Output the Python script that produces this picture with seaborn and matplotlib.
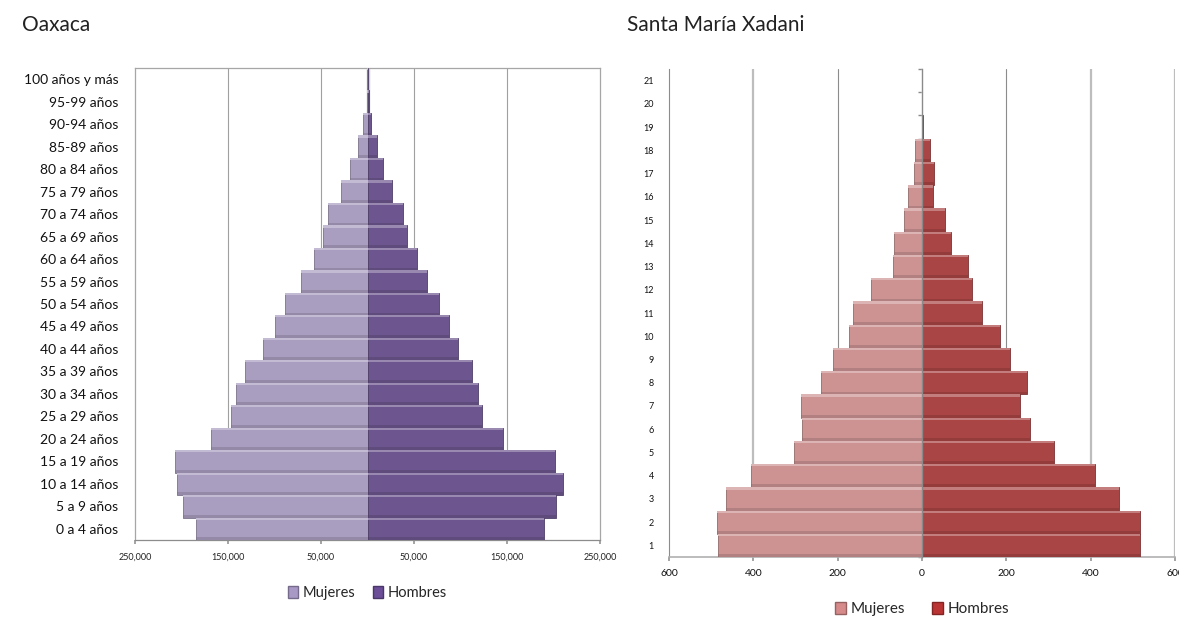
import matplotlib
matplotlib.use("Agg")
import matplotlib.pyplot as plt
import seaborn as sns
import pandas as pd
from matplotlib.patches import Patch, Rectangle
from matplotlib.ticker import FixedLocator
import matplotlib.colors as mcolors

# ---------------- data (youngest -> oldest) ----------------
oax_groups = ["0 a 4 años", "5 a 9 años", "10 a 14 años", "15 a 19 años", "20 a 24 años",
              "25 a 29 años", "30 a 34 años", "35 a 39 años", "40 a 44 años", "45 a 49 años",
              "50 a 54 años", "55 a 59 años", "60 a 64 años", "65 a 69 años", "70 a 74 años",
              "75 a 79 años", "80 a 84 años", "85-89 años", "90-94 años", "95-99 años",
              "100 años y más"]
oax_mujeres = [184500, 198000, 205000, 207000, 168000, 147000, 141000, 132000, 112000, 100000,
               89000, 71500, 58000, 48000, 43000, 29000, 19000, 10500, 4500, 1000, 300]
oax_hombres = [190000, 203000, 210000, 202000, 146000, 123000, 119000, 112500, 97500, 88000,
               77000, 64000, 53000, 43000, 38500, 26000, 17000, 10500, 4000, 2000, 200]

xad_groups = [str(i) for i in range(1, 22)]
xad_mujeres = [483, 486, 464, 406, 303, 284, 288, 239, 212, 173, 164, 121, 69, 67, 43, 34, 20, 17, 1, 0, 0]
xad_hombres = [518, 516, 467, 411, 313, 256, 233, 249, 209, 185, 142, 119, 110, 69, 55, 27, 29, 19, 3, 0, 0]

oax_ticks = [-250000, -150000, -50000, 50000, 150000, 250000]
xad_ticks = [-600, -400, -200, 0, 200, 400, 600]
series = ["Mujeres", "Hombres"]

sns.set_theme(style="white")
plt.rcParams["font.family"] = ["Lato", "DejaVu Sans"]

fig = plt.figure(figsize=(11.79, 6.17), dpi=100)


def bevel(ax):
    for p in list(ax.patches):
        x, y, w, h = p.get_x(), p.get_y(), p.get_width(), p.get_height()
        if w == 0:
            continue
        fc = p.get_facecolor()
        light = tuple(min(1, c + (1 - c) * 0.3) for c in fc[:3])
        dark = tuple(c * 0.72 for c in fc[:3])
        ax.add_patch(Rectangle((x, y), w, h * 0.10, facecolor=light, edgecolor="none",
                               zorder=p.get_zorder() + 0.1))
        ax.add_patch(Rectangle((x, y + h * 0.88), w, h * 0.12, facecolor=dark, alpha=0.45,
                               edgecolor="none", zorder=p.get_zorder() + 0.1))
        p.set_edgecolor(dark)
        p.set_linewidth(0.6)


def make_df(groups, muj, hom):
    rows = []
    for g, m, h in zip(groups, muj, hom):
        rows.append({"grupo": g, "sexo": "Mujeres", "valor": -m})
        rows.append({"grupo": g, "sexo": "Hombres", "valor": h})
    return pd.DataFrame(rows)


# ---------------- Oaxaca ----------------
axL = fig.add_axes([135 / 1179, 1 - 540 / 617, 465 / 1179, 472 / 617])
pal_L = {"Mujeres": "#a898c6", "Hombres": "#6b4d98"}
dfL = make_df(oax_groups, oax_mujeres, oax_hombres)
sns.barplot(data=dfL, x="valor", y="grupo", hue="sexo", order=oax_groups[::-1],
            hue_order=series, palette=pal_L, orient="h", dodge=False, width=1.0,
            errorbar=None, legend=False, ax=axL, zorder=3)
bevel(axL)
axL.set_xlim(-250000, 250000)
axL.set_ylim(len(oax_groups) - 0.5, -0.5)
axL.set_xticks(oax_ticks)
axL.set_xticklabels([f"{abs(t):,}" for t in oax_ticks], fontsize=6.5, color="#222222")
axL.tick_params(axis="x", length=3, color="#999999", pad=6, bottom=True)
axL.tick_params(axis="y", length=0, pad=12, labelsize=10, labelcolor="#111111")
axL.set_xlabel("")
axL.set_ylabel("")
for t in oax_ticks[1:-1]:
    axL.axvline(t, color="#a0a0a0", lw=0.8, zorder=1)
axL.axvline(0, color="#d0d0d0", lw=2.5, zorder=2)
for s in axL.spines.values():
    s.set_visible(True)
    s.set_color("#a6a6a6")
    s.set_linewidth(0.9)
axL.spines["bottom"].set_color("#8c8c8c")

handlesL = [Patch(facecolor=pal_L[s], edgecolor=tuple(c * 0.7 for c in mcolors.to_rgb(pal_L[s])), label=s)
            for s in series]
axL.legend(handles=handlesL, loc="center", bbox_to_anchor=(0.5, (617 - 593 - (617 - 540)) / 472),
           ncol=2, frameon=False, fontsize=10.5, handlelength=0.7, handleheight=0.9,
           handletextpad=0.3, columnspacing=1.2)

fig.text(22 / 1179, 1 - 25 / 617, "Oaxaca", fontsize=15, va="center", ha="left",
         color="#222222")

# ---------------- Santa María Xadani ----------------
axR = fig.add_axes([669 / 1179, 1 - 557 / 617, 506 / 1179, 488 / 617])
pal_R = {"Mujeres": "#d68a8a", "Hombres": "#bb3434"}
dfR = make_df(xad_groups, xad_mujeres, xad_hombres)
sns.barplot(data=dfR, x="valor", y="grupo", hue="sexo", order=xad_groups[::-1],
            hue_order=series, palette=pal_R, orient="h", dodge=False, width=1.0,
            errorbar=None, legend=False, ax=axR, zorder=3)
bevel(axR)
axR.set_xlim(-600, 600)
axR.set_ylim(len(xad_groups) - 0.5, -0.5)
axR.set_xticks(xad_ticks)
axR.set_xticklabels([f"{abs(t)}" for t in xad_ticks], fontsize=7.5, color="#111111")
axR.tick_params(axis="x", length=3, color="#999999", pad=6, bottom=True)
axR.tick_params(axis="y", which="major", length=0, pad=11, labelsize=6.5, labelcolor="#111111")
axR.set_xlabel("")
axR.set_ylabel("")
axR.grid(False)
for t in xad_ticks:
    if t == 0 or t == -600:
        continue
    if abs(t) == 200:
        axR.axvline(t, color="#8c8c8c", lw=0.8, zorder=1)
    else:
        axR.axvline(t, color="#bdbdbd", lw=1.6, zorder=1)
axR.spines["top"].set_visible(False)
axR.spines["left"].set_visible(True)
axR.spines["left"].set_color("#8c8c8c")
axR.spines["left"].set_linewidth(0.8)
axR.spines["bottom"].set_visible(True)
axR.spines["bottom"].set_color("#b0b0b0")
axR.spines["bottom"].set_linewidth(1.2)
axR.spines["right"].set_visible(True)
axR.spines["right"].set_position(("data", 0))
axR.spines["right"].set_color("#8a8a8a")
axR.spines["right"].set_linewidth(1.0)
axR.spines["right"].set_zorder(5)
axR.yaxis.set_minor_locator(FixedLocator([i - 0.5 for i in range(len(xad_groups) + 1)]))
axR.tick_params(axis="y", which="minor", left=False, right=True, direction="in",
                length=3, color="#8a8a8a")

handlesR = [Patch(facecolor=pal_R[s], edgecolor=tuple(c * 0.7 for c in mcolors.to_rgb(pal_R[s])), label=s)
            for s in series]
axR.legend(handles=handlesR, loc="center", bbox_to_anchor=(0.5, (617 - 609 - (617 - 557)) / 488),
           ncol=2, frameon=False, fontsize=11, handlelength=0.7, handleheight=0.9,
           handletextpad=0.3, columnspacing=1.8)

fig.text(627 / 1179, 1 - 25 / 617, "Santa María Xadani", fontsize=15, va="center", ha="left",
         color="#222222")

fig.savefig("out.png", dpi=100)
